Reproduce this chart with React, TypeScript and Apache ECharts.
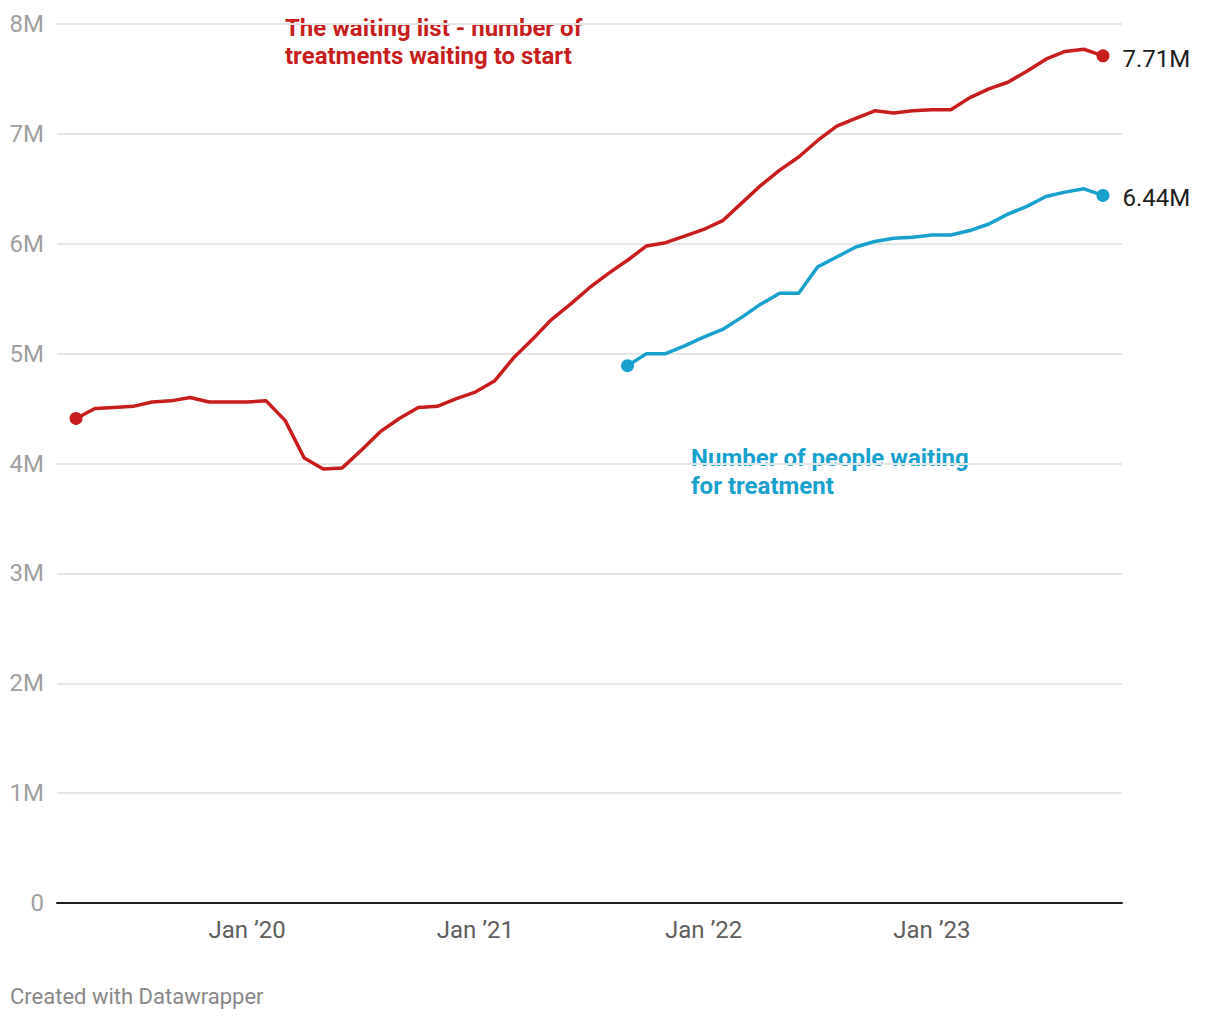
import React, { useEffect, useRef } from "react";
import * as echarts from "echarts";

// Months on the x axis: Mar 2019 .. Nov 2023 (first and last are padding)
const START_YEAR = 2019;
const START_MONTH = 2; // March (0-based)
const MONTH_COUNT = 57;
const MONTH_NAMES = ["Jan", "Feb", "Mar", "Apr", "May", "Jun", "Jul", "Aug", "Sep", "Oct", "Nov", "Dec"];
const months: string[] = [];
for (let i = 0; i < MONTH_COUNT; i++) {
  const m = (START_MONTH + i) % 12;
  const y = START_YEAR + Math.floor((START_MONTH + i) / 12);
  months.push(`${MONTH_NAMES[m]} ${y}`);
}

// Waiting list (treatments), Apr 2019 .. Oct 2023, in millions
const waitingListStart = "Apr 2019";
const waitingList = [
  4.41, 4.5, 4.51, 4.52, 4.56, 4.57, 4.6, 4.56, 4.56,
  4.56, 4.57, 4.39, 4.05, 3.95, 3.96, 4.12, 4.29, 4.41, 4.51, 4.52, 4.59,
  4.65, 4.75, 4.96, 5.13, 5.31, 5.45, 5.6, 5.73, 5.85, 5.98, 6.01, 6.07,
  6.13, 6.21, 6.37, 6.53, 6.67, 6.79, 6.94, 7.07, 7.14, 7.21, 7.19, 7.21,
  7.22, 7.22, 7.33, 7.41, 7.47, 7.57, 7.68, 7.75, 7.77, 7.71,
];

// Number of people waiting, Sep 2021 .. Oct 2023, in millions
const peopleStart = "Sep 2021";
const peopleWaiting = [
  4.89, 5.0, 5.0, 5.07,
  5.15, 5.22, 5.33, 5.45, 5.55, 5.55, 5.79, 5.88, 5.97, 6.02, 6.05, 6.06,
  6.08, 6.08, 6.12, 6.18, 6.27, 6.34, 6.43, 6.47, 6.5, 6.44,
];

const yTicks = [0, 1, 2, 3, 4, 5, 6, 7, 8];

const RED = "#c71e1d";
const BLUE = "#18a1cd";
const FONT = "Roboto";

function buildSeriesData(values: number[], startLabel: string, endLabel: string) {
  const startIdx = months.indexOf(startLabel);
  const out: any[] = months.map(() => null);
  values.forEach((v, i) => {
    const idx = startIdx + i;
    const isFirst = i === 0;
    const isLast = i === values.length - 1;
    const item: any = { value: v * 1e6 };
    if (isFirst || isLast) {
      item.symbolSize = 13;
    }
    if (isLast) {
      item.label = {
        show: true,
        position: "right",
        distance: 13,
        formatter: endLabel,
        fontFamily: FONT,
        fontSize: 24,
        color: "#1d1d1d",
        offset: [0, 3],
      };
    }
    out[idx] = item;
  });
  return out;
}

export default function App() {
  const ref = useRef<HTMLDivElement>(null);
  useEffect(() => {
    if (!ref.current) return;
    const chart = echarts.init(ref.current, null, { renderer: "svg" });
    const redData = buildSeriesData(
      waitingList,
      waitingListStart,
      `${waitingList[waitingList.length - 1].toFixed(2)}M`
    );
    const blueData = buildSeriesData(
      peopleWaiting,
      peopleStart,
      `${peopleWaiting[peopleWaiting.length - 1].toFixed(2)}M`
    );
    chart.setOption({
      animation: false,
      backgroundColor: "#ffffff",
      textStyle: { fontFamily: FONT },
      grid: { left: 57, right: 98, top: 24, bottom: 117, containLabel: false },
      xAxis: {
        type: "category",
        data: months,
        boundaryGap: false,
        axisLine: { show: true, lineStyle: { color: "#1d1d1d", width: 2 } },
        axisTick: { show: false },
        splitLine: { show: false },
        axisLabel: {
          interval: (idx: number, val: string) => val.startsWith("Jan "),
          formatter: (val: string) => `Jan \u2019${val.slice(-2)}`,
          margin: 15,
          fontFamily: FONT,
          fontSize: 24,
          color: "#5e5e5e",
        },
      },
      yAxis: {
        type: "value",
        min: yTicks[0] * 1e6,
        max: yTicks[yTicks.length - 1] * 1e6,
        interval: 1e6,
        axisLine: { show: false },
        axisTick: { show: false },
        splitLine: { show: true, lineStyle: { color: "#e6e6e6", width: 2 } },
        axisLabel: {
          margin: 13,
          fontFamily: FONT,
          fontSize: 24,
          color: "#a0a0a0",
          formatter: (v: number) => (v === 0 ? "0" : `${v / 1e6}M`),
        },
      },
      series: [
        {
          type: "line",
          name: "The waiting list",
          data: redData,
          connectNulls: false,
          symbol: "circle",
          symbolSize: 0,
          showSymbol: true,
          showAllSymbol: true,
          lineStyle: { color: RED, width: 3.5 },
          itemStyle: { color: RED },
          z: 3,
        },
        {
          type: "line",
          name: "Number of people waiting",
          data: blueData,
          connectNulls: false,
          symbol: "circle",
          symbolSize: 0,
          showSymbol: true,
          showAllSymbol: true,
          lineStyle: { color: BLUE, width: 3.5 },
          itemStyle: { color: BLUE },
          z: 2,
        },
      ],
      graphic: [
        {
          type: "text",
          left: 285,
          top: 14,
          style: {
            text: "The waiting list - number of\ntreatments waiting to start",
            fontFamily: FONT,
            fontSize: 24,
            fontWeight: "bold",
            lineHeight: 28,
            fill: RED,
          },
        },
        {
          type: "text",
          left: 691,
          top: 444,
          style: {
            text: "Number of people waiting\nfor treatment",
            fontFamily: FONT,
            fontSize: 24,
            fontWeight: "bold",
            lineHeight: 28,
            fill: BLUE,
          },
        },
        {
          type: "text",
          left: 10,
          top: 985,
          style: {
            text: "Created with Datawrapper",
            fontFamily: FONT,
            fontSize: 22,
            fill: "#888888",
          },
        },
      ],
    });
    return () => chart.dispose();
  }, []);
  return (
    <div
      ref={ref}
      style={{ position: "absolute", left: 0, top: 0, width: 1220, height: 1020 }}
    />
  );
}
